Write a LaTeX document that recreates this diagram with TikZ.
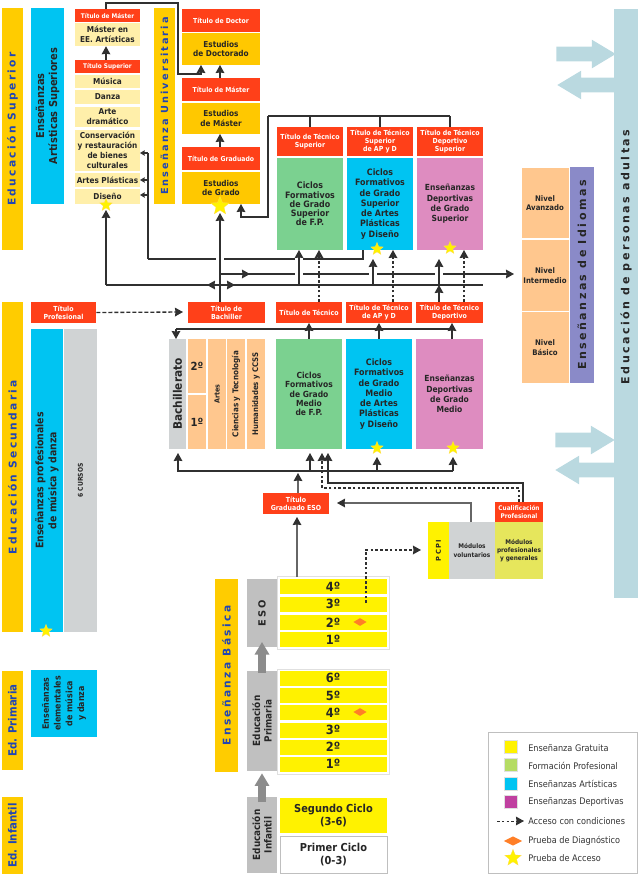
\documentclass[tikz,border=0pt]{standalone}
\usepackage{fontspec}
\setmainfont{DejaVu Sans Condensed}
\newfontfamily\spacedfont[LetterSpace=22]{DejaVu Sans}
\usepackage{tikz}
\usetikzlibrary{arrows.meta,positioning,shapes.geometric,shapes.arrows}
\definecolor{redtit}{HTML}{FF4019}
\definecolor{barorange}{HTML}{FFCC00}
\definecolor{bartext}{HTML}{2045B5}
\definecolor{palecell}{HTML}{FFEFAA}
\definecolor{golden}{HTML}{FFC800}
\definecolor{artblue}{HTML}{00C4F2}
\definecolor{fpgreen}{HTML}{7BD190}
\definecolor{sportpink}{HTML}{DE8CC0}
\definecolor{peach}{HTML}{FFC78E}
\definecolor{langblue}{HTML}{8A8AC8}
\definecolor{adultteal}{HTML}{BAD9E0}
\definecolor{cellgray}{HTML}{D0D3D4}
\definecolor{stepgray}{HTML}{C0C0C0}
\definecolor{freeyellow}{HTML}{FFF200}
\definecolor{modyellow}{HTML}{E6E65C}
\definecolor{diagorange}{HTML}{FF7F27}
\definecolor{linedark}{HTML}{303030}
\definecolor{legfp}{HTML}{B5DC64}
\definecolor{legdep}{HTML}{C040A0}
\tikzset{
	size/.style 2 args={minimum width=#1*0.75pt, minimum height=#2*0.75pt},
	cell/.style={inner sep=0pt, align=center, text=black!85, font=\fontsize{6.1}{7.3}\selectfont\bfseries},
	redbox/.style={cell, fill=redtit, text=white, font=\fontsize{5.2}{6.2}\selectfont\bfseries},
	redwide/.style={redbox, font=\fontsize{5.1}{6.2}\selectfont\bfseries},
	redsmall/.style={redbox, font=\fontsize{4.8}{6}\selectfont\bfseries},
	bar/.style={cell, fill=barorange, text=bartext, rotate=90, font=\fontsize{8}{9}\spacedfont\bfseries},
	barplain/.style={bar, font=\fontsize{8.5}{9}\selectfont\bfseries},
	pale/.style={cell, fill=palecell, font=\fontsize{6.1}{7.5}\selectfont\bfseries},
	gold/.style={cell, fill=golden},
	course/.style={cell, fill=freeyellow, font=\fontsize{9.5}{10}\selectfont\bfseries},
	ciclo/.style={course, font=\fontsize{8.2}{10}\selectfont\bfseries},
	bachcourse/.style={course, fill=peach, font=\fontsize{8.4}{10}\selectfont\bfseries},
	bigcell/.style={cell, font=\fontsize{6.6}{7.7}\selectfont\bfseries},
	sportcell/.style={cell, fill=sportpink, font=\fontsize{6.3}{7.7}\selectfont\bfseries},
	sidecell/.style={cell, rotate=90},
	branch/.style={sidecell, fill=peach, font=\fontsize{5.8}{6}\selectfont\bfseries},
	levelcell/.style={cell, fill=peach, font=\fontsize{5.8}{7}\selectfont\bfseries},
	modcell/.style={cell, font=\fontsize{4.8}{6.2}\selectfont\bfseries},
	starmark/.style={star, star points=5, star point ratio=2.3, fill=freeyellow, draw=barorange!70, line width=0.2pt, inner sep=0pt},
	diagmark/.style={diamond, fill=diagorange, inner sep=0pt, aspect=1.6},
	swatch/.style={minimum width=9.5pt, minimum height=9.5pt, inner sep=0pt, draw=black!12, line width=0.3pt},
	legtext/.style={anchor=west, inner sep=0pt, text=black!80, font=\fontsize{6.8}{8}\selectfont},
	plainline/.style={line width=0.9pt, draw=linedark},
	arr/.style={plainline, -{Stealth[length=6pt, width=6.5pt, inset=0.4pt]}},
	smallarr/.style={plainline, -{Stealth[length=3.5pt, width=4pt, inset=0.3pt]}},
	grayarr/.style={line width=0.9pt, draw=black!60, -{Stealth[length=6pt, width=6.5pt, inset=0.4pt, color=linedark]}},
	dotarr/.style={arr, line width=1pt, dash pattern=on 2pt off 1.6pt},
	thickarr/.style={line width=6pt, draw=black!45, -{Triangle[length=9.5pt, width=10.5pt]}},
	bigarrow/.style={single arrow, fill=adultteal, inner sep=0pt, text height=10.5pt, single arrow head extend=5.25pt, single arrow tip angle=62, single arrow head indent=0pt, minimum height=44.5pt}
}
\begin{document}
\begin{tikzpicture}[x=0.75pt, y=-0.75pt]
	\useasboundingbox (0,0) rectangle (639,875);
	% teal bar and its two arrows
	\node [bigarrow] (out_a) at (580,54) {};
	\node [bigarrow, shape border rotate=180] (in_a) at (593,85) {};
	\node [bigarrow] (out_b) at (579,440) {};
	\node [bigarrow, shape border rotate=180] (in_b) at (591,470) {};
	\node [bar, fill=adultteal, size={589}{24}, text=black] (adult_bar) at (626,303.5) {};
	\node [bar, fill=none, text=black!85, font=\fontsize{8.3}{9}\spacedfont\bfseries] (adult_text) at (626,257) {Educación de personas adultas};
	% left bars
	\node [bar, size={242}{21}] (sup_bar) at (12.5,129) {Educación Superior};
	\node [bar, size={330}{21}] (sec_bar) at (12.5,467) {Educación Secundaria};
	\node [barplain, size={99}{21}] (pri_bar) at (12.5,720.5) {Ed. Primaria};
	\node [barplain, size={77}{21}] (inf_bar) at (12.5,835.5) {Ed. Infantil};
	\node [bar, size={196}{21}, font=\fontsize{7.3}{9}\spacedfont\bfseries] (uni_bar) at (164.5,106) {Enseñanza Universitaria};
	\node [bar, size={193}{23}] (bas_bar) at (226.5,675.5) {Enseñanza Básica};
	% artistic column
	\node [sidecell, fill=artblue, size={196}{33}, font=\fontsize{8.2}{9.8}\selectfont\bfseries] (art_node) at (47.5,106) {Enseñanzas\\Artísticas Superiores};
	\node [redsmall, size={65}{13}] (tmaster_art) at (107.5,15.5) {Título de Máster};
	\node [pale, size={65}{23}] (master_art) at (107.5,34.5) {Máster en\\EE. Artísticas};
	\node [redsmall, size={65}{13}] (tsup_art) at (107.5,66.5) {Título Superior};
	\node [pale, size={65}{13}] (musica_node) at (107.5,81.5) {Música};
	\node [pale, size={65}{14}] (danza_node) at (107.5,97) {Danza};
	\node [pale, size={65}{20}] (arte_node) at (107.5,117) {Arte\\dramático};
	\node [pale, size={65}{41}] (conserv_node) at (107.5,150.5) {Conservación\\y restauración\\de bienes\\culturales};
	\node [pale, size={65}{14}] (plast_node) at (107.5,180) {Artes Plásticas};
	\node [pale, size={65}{15}] (diseno_node) at (107.5,196.5) {Diseño};
	% university column
	\node [redwide, size={78}{23}] (tdoctor_node) at (221,20.5) {Título de Doctor};
	\node [gold, size={78}{32}] (doctor_node) at (221,49) {Estudios\\de Doctorado};
	\node [redwide, size={78}{23}] (tmaster_node) at (221,89.5) {Título de Máster};
	\node [gold, size={78}{31}] (master_node) at (221,118.5) {Estudios\\de Máster};
	\node [redwide, size={78}{23}] (tgrado_node) at (221,158.5) {Título de Graduado};
	\node [gold, size={78}{32}] (grado_node) at (221,188) {Estudios\\de Grado};
	% upper cycles
	\node [redbox, size={66}{29}] (tfp_sup) at (310,141.5) {Título de Técnico\\Superior};
	\node [redbox, size={66}{29}] (tap_sup) at (380,141.5) {Título de Técnico\\Superior\\de AP y D};
	\node [redbox, size={66}{29}] (tdep_sup) at (450,141.5) {Título de Técnico\\Deportivo\\Superior};
	\node [bigcell, fill=fpgreen, size={66}{92}, font=\fontsize{6.6}{6.9}\selectfont\bfseries] (fp_sup) at (310,204) {Ciclos\\Formativos\\de Grado\\Superior\\de F.P.};
	\node [bigcell, fill=artblue, size={66}{92}] (ap_sup) at (380,204) {Ciclos\\Formativos\\de Grado\\Superior\\de Artes\\Plásticas\\y Diseño};
	\node [sportcell, size={66}{92}] (dep_sup) at (450,204) {Enseñanzas\\Deportivas\\de Grado\\Superior};
	% languages
	\node [levelcell, size={47}{70}] (avz_node) at (545,203) {Nivel\\Avanzado};
	\node [levelcell, size={47}{71}] (int_node) at (545,275.5) {Nivel\\Intermedio};
	\node [levelcell, size={47}{71}] (bas_node) at (545,347.5) {Nivel\\Básico};
	\node [bar, fill=langblue, size={216}{24}, text=black!85, font=\fontsize{8.3}{9}\spacedfont\bfseries] (idiomas_node) at (582,275) {Enseñanzas de Idiomas};
	% title row
	\node [redbox, size={65}{21}] (tprof_node) at (63.5,312.5) {Título\\Profesional};
	\node [redbox, size={77}{21}] (bach_tit) at (226.5,312.5) {Título de\\Bachiller};
	\node [redbox, size={66}{21}] (tfp_med) at (309,312.5) {Título de Técnico};
	\node [redbox, size={66}{21}] (tap_med) at (379,312.5) {Título de Técnico\\de AP y D};
	\node [redbox, size={67}{21}] (tdep_med) at (449.5,312.5) {Título de Técnico\\Deportivo};
	% professional music
	\node [sidecell, fill=artblue, size={303}{32}, font=\fontsize{7.8}{9.8}\selectfont\bfseries] (prof_node) at (47,480.5) {Enseñanzas profesionales\\de música y danza};
	\node [sidecell, fill=cellgray, size={303}{33}, font=\fontsize{5}{6}\selectfont\bfseries] (cursos_node) at (80.5,480.5) {6 CURSOS};
	\node [sidecell, fill=artblue, size={67}{66}, font=\fontsize{6.6}{8.8}\selectfont\bfseries] (elem_node) at (64,703.5) {Enseñanzas\\elementales\\de música\\y danza};
	% bachillerato
	\node [sidecell, fill=cellgray, size={110}{17}, font=\fontsize{8.8}{9}\selectfont\bfseries] (bachi_node) at (177.5,394) {Bachillerato};
	\node [bachcourse, size={18}{54}] (segundo_node) at (197,366) {2º};
	\node [bachcourse, size={18}{54}] (primero_node) at (197,422) {1º};
	\node [branch, size={110}{18}, font=\fontsize{5.3}{6}\selectfont\bfseries] (artes_node) at (217,394) {Artes};
	\node [branch, size={110}{18}, font=\fontsize{6}{6}\selectfont\bfseries] (cienc_node) at (236,394) {Ciencias y Tecnología};
	\node [branch, size={110}{18}] (human_node) at (256,394) {Humanidades y CCSS};
	% middle cycles
	\node [bigcell, fill=fpgreen, size={66}{110}, font=\fontsize{6.3}{6.9}\selectfont\bfseries] (fp_med) at (309,394) {Ciclos\\Formativos\\de Grado\\Medio\\de F.P.};
	\node [bigcell, fill=artblue, size={66}{110}] (ap_med) at (379,394) {Ciclos\\Formativos\\de Grado\\Medio\\de Artes\\Plásticas\\y Diseño};
	\node [sportcell, size={67}{110}] (dep_med) at (449.5,394) {Enseñanzas\\Deportivas\\de Grado\\Medio};
	% ESO title and PCPI
	\node [redbox, size={66}{21}] (teso_node) at (296,503.5) {Título\\Graduado ESO};
	\node [cell, fill=freeyellow, size={57}{21}, rotate=90, font=\fontsize{5}{6}\spacedfont\bfseries] (pcpi_node) at (438.5,550.5) {PCPI};
	\node [modcell, fill=cellgray, size={46}{57}] (volunt_node) at (472,550.5) {Módulos\\voluntarios};
	\node [modcell, fill=modyellow, size={48}{57}] (modprof_node) at (519,550.5) {Módulos\\profesionales\\y generales};
	\node [redsmall, size={48}{20}] (cualif_node) at (519,512) {Cualificación\\Profesional};
	% basic education
	\node [draw=black!12, line width=0.5pt, size={112}{73}] (eso_frame) at (333,613) {};
	\node [draw=black!12, line width=0.5pt, size={112}{105}] (pri_frame) at (333,721.5) {};
	\node [sidecell, fill=stepgray, size={68}{30}, font=\fontsize{7.4}{9}\spacedfont\bfseries] (eso_node) at (262,613) {ESO};
	\node [sidecell, fill=stepgray, size={100}{30}, font=\fontsize{7.4}{8.6}\selectfont\bfseries] (edpri_node) at (262,721) {Educación\\Primaria};
	\node [sidecell, fill=stepgray, size={76}{30}, font=\fontsize{7.4}{8.6}\selectfont\bfseries] (edinf_node) at (262,835) {Educación\\Infantil};
	\foreach \cname/\clabel/\cy in {c_cuatro/4º/586.5, c_tres/3º/604, c_dos/2º/622.5, c_uno/1º/639.5, p_seis/6º/678, p_cinco/5º/695.5, p_cuatro/4º/712.5, p_tres/3º/730, p_dos/2º/747, p_uno/1º/764}
		\node [course, size={107}{15}] (\cname) at (333,\cy) {\clabel};
	\node [ciclo, size={107}{35}] (seg_ciclo) at (333.5,815.5) {Segundo Ciclo\\(3-6)};
	\node [ciclo, fill=white, draw=black!25, line width=0.5pt, size={107}{37}] (pri_ciclo) at (333.5,854.5) {Primer Ciclo\\(0-3)};
	\node [diagmark, minimum width=10pt, minimum height=6pt] (diag_a) at (360,622) {};
	\node [diagmark, minimum width=10pt, minimum height=6pt] (diag_b) at (360,712) {};
	% junctions
	\coordinate (row_a) at (148,259);
	\coordinate (row_b) at (514,274);
	\coordinate (row_c) at (106,285);
	\coordinate (row_d) at (483,285);
	\coordinate (hub_b) at (220,274);
	\coordinate (top_l) at (268,116);
	\coordinate (top_r) at (450,116);
	\coordinate (arc_a) at (106,3);
	\coordinate (arc_b) at (178,3);
	\coordinate (arc_c) at (178,74);
	\coordinate (arc_d) at (201,74);
	\coordinate (arc_e) at (201,65);
	\coordinate (up_a) at (299,285);
	\coordinate (up_b) at (373,285);
	\coordinate (up_c) at (439,285);
	\coordinate (low_l) at (178,471);
	\coordinate (low_r) at (453,471);
	\coordinate (mid_l) at (176,329);
	\coordinate (mid_r) at (452,329);
	% horizontal lines first, then the breaks, then what crosses them
	\draw [plainline] (row_a) -- (363,259) -- (363,250);
	\draw [plainline] (row_a) -- (148,153);
	\draw [arr] (hub_b) -- (row_b);
	\draw [arr] (hub_b) -- (250,274);
	\draw [plainline] (row_c) -- (row_d);
	\foreach \gx/\gy in {220/259, 299/259, 299/274, 373/274, 439/274}
		\fill [white] (\gx-4,\gy-2.5) rectangle (\gx+4,\gy+2.5);
	% arrows near the artistic cells
	\draw [smallarr] (148,153) -- (140,153);
	\draw [smallarr] (148,180) -- (140,180);
	\draw [smallarr] (148,195) -- (140,195);
	% university
	\draw [arr] (tmaster_art.north -| arc_a) -- (arc_a) -- (arc_b) -- (arc_c) -- (arc_d) -- (arc_e);
	\draw [arr] (tsup_art.north -| arc_a) -- (arc_a |- master_art.south);
	\draw [arr] (tmaster_node.north -| 220,0) -- (220,65);
	\draw [arr] (tgrado_node.north -| 220,0) -- (220,134);
	\draw [plainline] (top_l) -- (top_r);
	\draw [plainline] (tfp_sup.north -| 310,0) -- (310,116);
	\draw [plainline] (tap_sup.north) -- (tap_sup.north |- top_l);
	\draw [plainline] (tdep_sup.north) -- (top_r);
	\draw [arr] (top_l) -- (268,217) -- (241,217) -- (241,204);
	% main trunk
	\draw [arr] (bach_tit.north -| 220,0) -- (220,213);
	\draw [arr] (220,285) -- (207,285);
	\draw [arr] (220,285) -- (235,285);
	\draw [arr] (row_c) -- (106,210);
	% to the upper cycles
	\draw [arr] (up_a) -- (299,250);
	\draw [dotarr] (319,302) -- (319,250);
	\draw [arr] (up_b) -- (373,259);
	\draw [dotarr] (393,302) -- (393,250);
	\draw [arr] (tdep_med.north -| up_c) -- (up_c);
	\draw [arr] (up_c) -- (439,259);
	\draw [dotarr] (464,302) -- (464,250);
	\draw [dotarr, dash pattern=on 3pt off 1.5pt] (tprof_node.east) -- (183,312);
	% middle band
	\draw [plainline] (mid_l) -- (mid_r);
	\draw [arr] (mid_l) -- (176,339);
	\draw [arr] (fp_med.north) -- (309,323);
	\draw [arr] (ap_med.north) -- (379,323);
	\draw [arr] (452,339) -- (452,323);
	% lower band
	\draw [arr] (low_r) -- (low_l) -- (178,453);
	\draw [arr] (310,471) -- (310,453);
	\draw [arr] (377,471) -- (377,457);
	\draw [arr] (low_r) -- (453,457);
	\draw [grayarr] (teso_node.north -| 298,0) -- (298,473);
	\draw [grayarr] (297,577) -- (297,517);
	\draw [grayarr] (471,522) -- (471,503) -- (337,503);
	\draw [arr] (523,502) -- (523,483) -- (328,483) -- (328,453);
	\draw [dotarr] (519,502) -- (519,488) -- (322,488) -- (322,453);
	\draw [dotarr] (366,603) -- (366,550) -- (421,550);
	% stars over the boxes
	\node [starmark, minimum size=10pt] (star_a) at (106,205) {};
	\node [starmark, minimum size=14.5pt] (star_b) at (220,206) {};
	\node [starmark, minimum size=10pt] (star_c) at (377,249) {};
	\node [starmark, minimum size=10pt] (star_d) at (450,248) {};
	\node [starmark, minimum size=10pt] (star_e) at (377,448) {};
	\node [starmark, minimum size=10pt] (star_f) at (453,448) {};
	\node [starmark, minimum size=10pt] (star_g) at (46,631) {};
	% grey step arrows
	\draw [thickarr] ([yshift=-1.5pt]edpri_node.east) -- ([yshift=4pt]eso_node.west);
	\draw [thickarr] ([yshift=-4pt]edinf_node.east) -- ([yshift=-1.5pt]edpri_node.west);
	% legend
	\node [draw=black!25, line width=0.5pt, size={149}{141}] (legend_frame) at (562.5,802.5) {};
	\node [swatch, fill=freeyellow] (sw_gratis) at (510.5,747) {};
	\node [swatch, fill=legfp] (sw_fp) at (510.5,765) {};
	\node [swatch, fill=artblue] (sw_art) at (510.5,783.5) {};
	\node [swatch, fill=legdep] (sw_dep) at (510.5,802) {};
	\node [legtext] (lt_a) at (528,748) {Enseñanza Gratuita};
	\node [legtext] (lt_b) at (528,766) {Formación Profesional};
	\node [legtext] (lt_c) at (528,784) {Enseñanzas Artísticas};
	\node [legtext] (lt_d) at (528,802) {Enseñanzas Deportivas};
	\node [legtext] (lt_e) at (528,821) {Acceso con condiciones};
	\node [legtext] (lt_f) at (528,841) {Prueba de Diagnóstico};
	\node [legtext] (lt_g) at (528,858) {Prueba de Acceso};
	\coordinate (leg_tail) at (497,821);
	\draw [dotarr, line width=0.7pt] (leg_tail) -- ([xshift=-3pt]lt_e.west);
	\node [diagmark, minimum width=14pt, minimum height=7pt] (leg_diag) at (513,841) {};
	\node [starmark, minimum size=13pt] (leg_star) at (513,858) {};
\end{tikzpicture}
\end{document}
